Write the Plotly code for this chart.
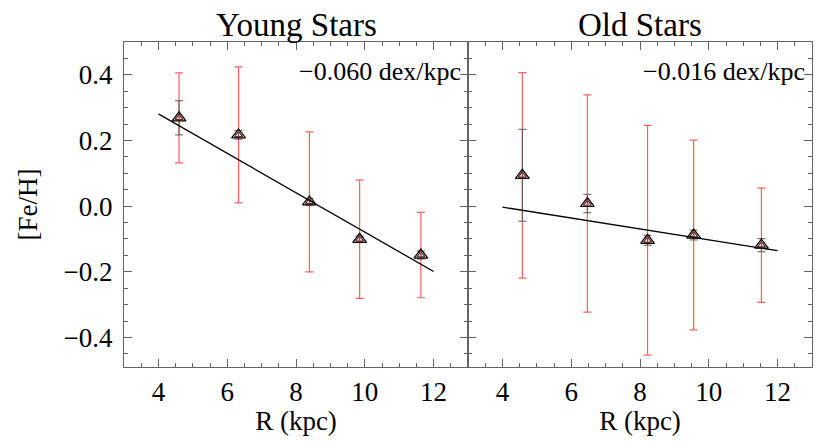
import plotly.graph_objects as go

# Young stars
young_r = [4.60, 6.33, 8.39, 9.85, 11.63]
young_feh = [0.269, 0.217, 0.013, -0.101, -0.149]
young_disp = [0.137, 0.207, 0.213, 0.180, 0.130]
young_err = [0.052, 0.013, 0.010, 0.010, 0.012]

# Old stars
old_r = [4.58, 6.47, 8.22, 9.56, 11.53]
old_feh = [0.094, 0.008, -0.104, -0.088, -0.119]
old_disp = [0.313, 0.331, 0.350, 0.289, 0.174]
old_err = [0.140, 0.028, 0.015, 0.015, 0.020]

# linear fits: value at R=4 and gradient
fit_r = [4, 12]
young_fit = (0.281, -0.060)
old_fit = (-0.003, -0.0166)
slope_labels = ["\u22120.060 dex/kpc", "\u22120.016 dex/kpc"]
titles = ["Young Stars", "Old Stars"]

FONT = "Liberation Serif, Times New Roman, serif"
RED = "rgb(255,95,95)"
GRAY = "rgb(90,90,90)"
AX = "rgb(100,100,100)"

fig = go.Figure()

panels = [
    (young_r, young_feh, young_disp, young_err, young_fit, "x", "y"),
    (old_r, old_feh, old_disp, old_err, old_fit, "x2", "y2"),
]

for r, feh, disp, err, fit, xa, ya in panels:
    fig.add_trace(go.Scatter(
        x=r, y=feh, mode="markers", xaxis=xa, yaxis=ya,
        marker=dict(symbol="triangle-up-open", size=7, color="rgb(120,30,30)", line=dict(width=1.2)),
        error_y=dict(type="data", array=disp, color=RED, thickness=1.2, width=4),
        showlegend=False,
    ))
    fig.add_trace(go.Scatter(
        x=r, y=feh, mode="markers", xaxis=xa, yaxis=ya,
        marker=dict(symbol="triangle-up-open", size=12, color="black", line=dict(width=1.2)),
        error_y=dict(type="data", array=err, color=GRAY, thickness=1, width=4),
        showlegend=False,
    ))
    b, m = fit
    fig.add_trace(go.Scatter(
        x=fit_r, y=[b + m * (v - fit_r[0]) for v in fit_r], mode="lines",
        xaxis=xa, yaxis=ya, line=dict(color="black", width=1.3), showlegend=False,
    ))

axis_common = dict(
    showline=True, linecolor=AX, linewidth=1.2, mirror="ticks",
    ticks="inside", ticklen=8, tickcolor=AX, tickwidth=1,
    showgrid=False, zeroline=False,
    tickfont=dict(family=FONT, size=27, color="black"),
)

xcommon = dict(axis_common, range=[3, 13], tickvals=[4, 6, 8, 10, 12],
               minor=dict(dtick=0.5, ticks="inside", ticklen=4, tickcolor=AX),
               title=dict(text="R (kpc)", font=dict(family=FONT, size=27, color="black"), standoff=2))
ycommon = dict(axis_common, range=[-0.49, 0.5], tickvals=[-0.4, -0.2, 0.0, 0.2, 0.4], tickformat=".1f",
               minor=dict(dtick=0.05, ticks="inside", ticklen=4, tickcolor=AX))

fig.update_layout(
    width=830, height=443,
    margin=dict(l=124, r=18, t=42, b=76, autoexpand=False),
    paper_bgcolor="white", plot_bgcolor="white",
    font=dict(family=FONT, color="black"),
    xaxis=dict(xcommon, domain=[0, 0.5], anchor="y"),
    xaxis2=dict(xcommon, domain=[0.5, 1], anchor="y2"),
    yaxis=dict(ycommon, domain=[0, 1], anchor="x", ticklabelstandoff=5,
               title=dict(text="[Fe/H]", font=dict(family=FONT, size=27, color="black"), standoff=18)),
    yaxis2=dict(ycommon, domain=[0, 1], anchor="x2", showticklabels=False),
)

for i, (t, s) in enumerate(zip(titles, slope_labels)):
    xref = "x domain" if i == 0 else "x2 domain"
    yref = "y domain" if i == 0 else "y2 domain"
    fig.add_annotation(text=t, x=0.5, y=1.0, xref=xref, yref=yref, yanchor="bottom",
                       yshift=-2, borderpad=0, showarrow=False,
                       font=dict(family=FONT, size=33, color="black"))
    fig.add_annotation(text=s, x=0.985, y=0.96, xref=xref, yref=yref, xanchor="right",
                       yanchor="top", showarrow=False, font=dict(family=FONT, size=26, color="black"))

# drop the default page margin so the 830x443 figure fills the window exactly
fig.write_html("out.html", config={"displayModeBar": False},
               post_script="document.body.style.margin='0';")
